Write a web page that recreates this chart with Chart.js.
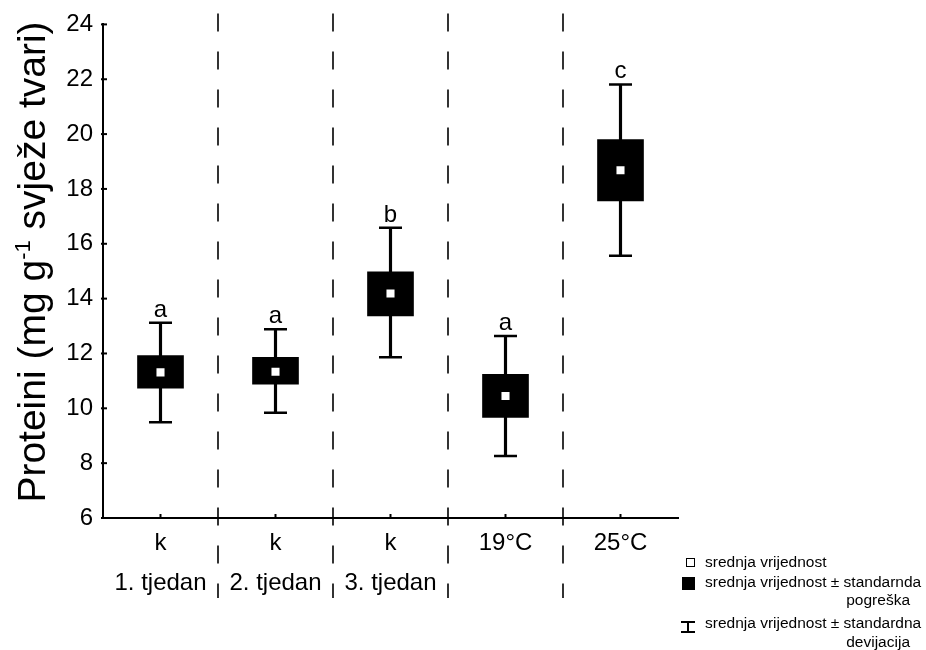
<!DOCTYPE html>
<html>
<head>
<meta charset="utf-8">
<script src="https://cdn.jsdelivr.net/npm/chart.js@4.4.1/dist/chart.umd.min.js"></script>
<style>
  body { margin: 0; background: #fff; }
  #wrap { width: 926px; height: 650px; }
</style>
</head>
<body>
<div id="wrap"><canvas id="proteinChart"></canvas></div>
<script>
const categories = [['k', '1. tjedan'], ['k', '2. tjedan'], ['k', '3. tjedan'], '19°C', '25°C'];
const means = [11.31, 11.33, 14.19, 10.45, 18.68];
const seLow = [10.73, 10.88, 13.37, 9.67, 17.56];
const seHigh = [11.92, 11.86, 14.98, 11.24, 19.80];
const sdLow = [9.49, 9.84, 11.86, 8.26, 15.56];
const sdHigh = [13.12, 12.88, 16.58, 12.64, 21.81];
const groupLetters = ['a', 'a', 'b', 'a', 'c'];
const yTicks = [6, 8, 10, 12, 14, 16, 18, 20, 22, 24];

const fontFamily = '"Liberation Sans", Arial, sans-serif';
Chart.defaults.font.family = fontFamily;
Chart.defaults.color = '#000';

// dashed separators, inward ticks, letters, y title and legend
const extras = {
  id: 'extras',
  beforeDatasetsDraw(chart) {
    const { ctx, chartArea, scales: { x } } = chart;
    ctx.save();
    ctx.strokeStyle = '#000';
    ctx.lineWidth = 1.6;
    ctx.setLineDash([18, 20]);
    for (let i = 0; i < categories.length - 1; i++) {
      const bx = (x.getPixelForValue(i) + x.getPixelForValue(i + 1)) / 2;
      ctx.beginPath();
      ctx.moveTo(bx, chartArea.top - 11);
      ctx.lineTo(bx, 598);
      ctx.stroke();
    }
    ctx.restore();
  },
  afterDraw(chart) {
    const { ctx, chartArea, scales: { x, y } } = chart;
    ctx.save();
    ctx.strokeStyle = '#000';
    ctx.lineWidth = 2;

    yTicks.forEach(v => {
      const py = y.getPixelForValue(v);
      ctx.beginPath();
      ctx.moveTo(chartArea.left - 2, py);
      ctx.lineTo(chartArea.left + 4, py);
      ctx.stroke();
    });
    categories.forEach((c, i) => {
      const px = x.getPixelForValue(i);
      ctx.beginPath();
      ctx.moveTo(px, chartArea.bottom);
      ctx.lineTo(px, chartArea.bottom - 4);
      ctx.stroke();
    });

    ctx.fillStyle = '#000';
    ctx.font = '24px ' + fontFamily;
    ctx.textAlign = 'center';
    ctx.textBaseline = 'alphabetic';
    groupLetters.forEach((l, i) => {
      ctx.fillText(l, x.getPixelForValue(i), y.getPixelForValue(sdHigh[i]) - 6);
    });

    // y axis title with superscript
    const bigFont = '39px ' + fontFamily;
    const smallFont = '22px ' + fontFamily;
    const partA = 'Proteini (mg g';
    const partB = '-1';
    const partC = ' svježe tvari)';
    ctx.font = bigFont;
    const wA = ctx.measureText(partA).width;
    const wC = ctx.measureText(partC).width;
    ctx.font = smallFont;
    const wB = ctx.measureText(partB).width;
    const total = wA + wB + wC;
    ctx.translate(45, 262);
    ctx.rotate(-Math.PI / 2);
    ctx.textAlign = 'left';
    let tx = -total / 2;
    ctx.font = bigFont;
    ctx.fillText(partA, tx, 0);
    tx += wA;
    ctx.font = smallFont;
    ctx.fillText(partB, tx, -15);
    tx += wB;
    ctx.font = bigFont;
    ctx.fillText(partC, tx, 0);
    ctx.setTransform(1, 0, 0, 1, 0, 0);
    ctx.restore();

    // legend
    ctx.save();
    const dpr = chart.currentDevicePixelRatio;
    ctx.setTransform(dpr, 0, 0, dpr, 0, 0);
    ctx.fillStyle = '#000';
    ctx.strokeStyle = '#000';
    ctx.font = '15.5px ' + fontFamily;
    ctx.textBaseline = 'middle';
    ctx.textAlign = 'left';

    ctx.lineWidth = 1;
    ctx.fillStyle = '#fff';
    ctx.fillRect(686.5, 558.5, 8, 8);
    ctx.strokeRect(686.5, 558.5, 8, 8);
    ctx.fillStyle = '#000';
    ctx.fillText('srednja vrijednost', 705, 563);

    ctx.fillRect(682, 577, 13, 13);
    ctx.fillText('srednja vrijednost ± standarnda', 705, 583);
    ctx.textAlign = 'right';
    ctx.fillText('pogreška', 910, 601);

    ctx.lineWidth = 2;
    ctx.beginPath();
    ctx.moveTo(688, 622);
    ctx.lineTo(688, 632);
    ctx.moveTo(681, 622);
    ctx.lineTo(695, 622);
    ctx.moveTo(681, 632);
    ctx.lineTo(695, 632);
    ctx.stroke();
    ctx.textAlign = 'left';
    ctx.fillText('srednja vrijednost ± standardna', 705, 624);
    ctx.textAlign = 'right';
    ctx.fillText('devijacija', 910, 643);
    ctx.restore();
  }
};

const sdRange = sdLow.map((v, i) => [v, sdHigh[i]]);
const seRange = seLow.map((v, i) => [v, seHigh[i]]);

const ctx = document.getElementById('proteinChart').getContext('2d');
new Chart(ctx, {
  type: 'bar',
  data: {
    labels: categories,
    datasets: [
      {
        label: 'SD',
        data: sdRange,
        backgroundColor: '#000',
        barThickness: 2.5,
        grouped: false,
        order: 4
      },
      {
        label: 'SE',
        data: seRange,
        backgroundColor: '#000',
        barThickness: 46,
        grouped: false,
        order: 3
      },
      {
        type: 'line',
        label: 'SD high',
        data: sdHigh,
        showLine: false,
        pointStyle: 'line',
        pointRadius: 11.5,
        pointBorderWidth: 2.5,
        pointBorderColor: '#000',
        order: 2
      },
      {
        type: 'line',
        label: 'SD low',
        data: sdLow,
        showLine: false,
        pointStyle: 'line',
        pointRadius: 11.5,
        pointBorderWidth: 2.5,
        pointBorderColor: '#000',
        order: 2
      },
      {
        type: 'line',
        label: 'mean',
        data: means,
        showLine: false,
        pointStyle: 'rect',
        pointRadius: 5.7,
        pointBorderWidth: 0,
        pointBackgroundColor: '#fff',
        order: 1
      }
    ]
  },
  options: {
    responsive: true,
    maintainAspectRatio: false,
    animation: false,
    events: [],
    layout: {
      padding: { top: 24, right: 248, bottom: 0, left: 0 }
    },
    plugins: {
      legend: { display: false },
      tooltip: { enabled: false },
      title: { display: false }
    },
    scales: {
      x: {
        afterFit: s => { s.height = 132; },
        grid: { display: false, drawTicks: false },
        border: { display: true, color: '#000', width: 2 },
        ticks: {
          padding: 5,
          maxRotation: 0,
          autoSkip: false,
          color: '#000',
          font: { size: 24, lineHeight: '40px' }
        }
      },
      y: {
        min: 6,
        max: 24,
        afterFit: s => { s.width = 103; },
        afterBuildTicks: s => { s.ticks = yTicks.map(v => ({ value: v })); },
        grid: { display: false, drawTicks: false },
        border: { display: true, color: '#000', width: 2 },
        ticks: {
          padding: 10,
          color: '#000',
          font: { size: 24 }
        }
      }
    }
  },
  plugins: [extras]
});
</script>
</body>
</html>
